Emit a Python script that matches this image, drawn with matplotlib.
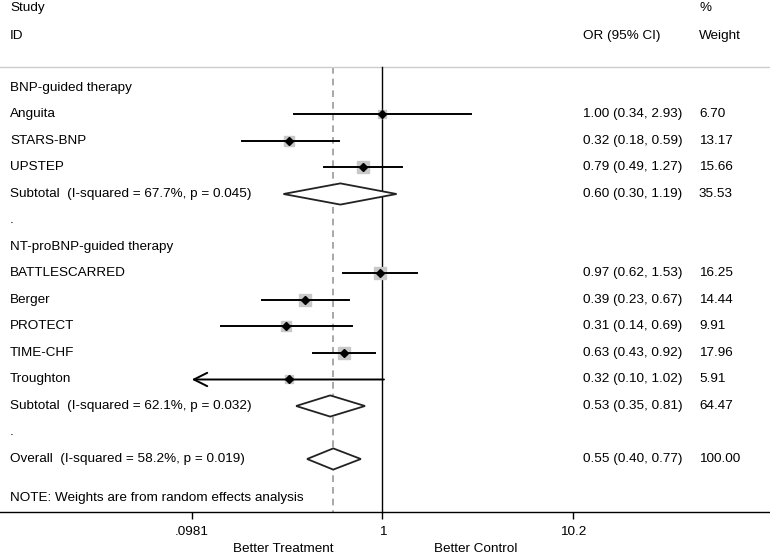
import matplotlib
matplotlib.use('agg')
import matplotlib.pyplot as plt
import numpy as np

plt.rcParams['font.family'] = ['Liberation Sans', 'DejaVu Sans']
plt.rcParams['font.size'] = 9.7

# study level data
groups = ["BNP-guided therapy", "NT-proBNP-guided therapy"]
studies = [
    ["Anguita", "STARS-BNP", "UPSTEP"],
    ["BATTLESCARRED", "Berger", "PROTECT", "TIME-CHF", "Troughton"],
]
est = [[1.00, 0.32, 0.79], [0.97, 0.39, 0.31, 0.63, 0.32]]
lo = [[0.34, 0.18, 0.49], [0.62, 0.23, 0.14, 0.43, 0.10]]
hi = [[2.93, 0.59, 1.27], [1.53, 0.67, 0.69, 0.92, 1.02]]
wt = [[6.70, 13.17, 15.66], [16.25, 14.44, 9.91, 17.96, 5.91]]

# subtotals
sub_est = [0.60, 0.53]
sub_lo = [0.30, 0.35]
sub_hi = [1.19, 0.81]
sub_wt = [35.53, 64.47]
sub_i2 = [67.7, 62.1]
sub_p = [0.045, 0.032]

# overall
ov_est, ov_lo, ov_hi, ov_wt = 0.55, 0.40, 0.77, 100.00
ov_i2, ov_p = 58.2, 0.019

tick_vals = [0.0981, 1, 10.2]
tick_labels = [".0981", "1", "10.2"]

W, H = 770, 558
fig = plt.figure(figsize=(W / 100, H / 100), dpi=100)
ax = fig.add_axes([0, 46 / H, 1, 512 / H])
ax.set_xscale('log')
px_dec = 189.0
ax.set_xlim(10 ** (-382.3 / px_dec), 10 ** ((W - 382.3) / px_dec))
ax.set_ylim(16.0, -3.32)

for s in ['top', 'left', 'right']:
    ax.spines[s].set_visible(False)
ax.spines['bottom'].set_linewidth(1.0)
ax.set_yticks([])
ax.set_xticks(tick_vals)
ax.set_xticklabels(tick_labels)
ax.minorticks_off()
ax.tick_params(axis='x', direction='out', length=5, width=1, pad=5)

tr = ax.get_yaxis_transform()
X_LAB = 10 / W
X_OR = 583 / W
X_WT = 699 / W


def row_text(y, label, orstr="", wstr=""):
    ax.text(X_LAB, y, label, transform=tr, va='center', ha='left')
    if orstr:
        ax.text(X_OR, y, orstr, transform=tr, va='center', ha='left')
    if wstr:
        ax.text(X_WT, y, wstr, transform=tr, va='center', ha='left')


def fmt(e, l, h):
    return "%.2f (%.2f, %.2f)" % (e, l, h)


def diamond(y, e, l, h):
    ax.fill([l, e, h, e, l], [y, y - 0.4, y, y + 0.4, y], facecolor='white',
            edgecolor='#222222', lw=1.3, zorder=4)


# header
ax.text(X_LAB, -3.02, "Study", transform=tr, va='center')
ax.text(X_LAB, -1.96, "ID", transform=tr, va='center')
ax.text(X_OR, -1.96, "OR (95% CI)", transform=tr, va='center')
ax.text(X_WT, -3.02, "%", transform=tr, va='center')
ax.text(X_WT, -1.96, "Weight", transform=tr, va='center')
ax.axhline(-0.79, color='#cccccc', lw=1.0)

top_line = -0.79
ax.plot([1, 1], [top_line, 16.0], color='black', lw=1.0, zorder=2)
ax.plot([ov_est, ov_est], [top_line, 16.0], color='#999999', lw=1.2,
        dashes=(4, 3), zorder=1)

ax_lo = tick_vals[0]
r = 0
for g in range(len(groups)):
    row_text(r, groups[g])
    r += 1
    for i in range(len(studies[g])):
        e, l, h, w = est[g][i], lo[g][i], hi[g][i], wt[g][i]
        row_text(r, studies[g][i], fmt(e, l, h), "%.2f" % w)
        ax.plot(e, r, marker='s', markersize=2.14 * np.sqrt(w),
                color='#c8c8c8', zorder=3, lw=0)
        if round(l, 2) <= round(ax_lo, 2):
            ax.annotate("", xy=(ax_lo, r), xytext=(h, r),
                        arrowprops=dict(arrowstyle='->', lw=1.4,
                                        mutation_scale=24, color='black',
                                        shrinkA=0, shrinkB=0), zorder=4)
        else:
            ax.plot([l, h], [r, r], color='black', lw=1.4, zorder=4)
        ax.plot(e, r, marker='D', markersize=3.8, color='black', zorder=5)
        r += 1
    row_text(r, "Subtotal  (I-squared = %.1f%%, p = %.3f)" % (sub_i2[g], sub_p[g]),
             fmt(sub_est[g], sub_lo[g], sub_hi[g]), "%.2f" % sub_wt[g])
    diamond(r, sub_est[g], sub_lo[g], sub_hi[g])
    r += 1
    row_text(r, ".")
    r += 1

row_text(r, "Overall  (I-squared = %.1f%%, p = %.3f)" % (ov_i2, ov_p),
         fmt(ov_est, ov_lo, ov_hi), "%.2f" % ov_wt)
diamond(r, ov_est, ov_lo, ov_hi)
ax.text(X_LAB, r + 1.47, "NOTE: Weights are from random effects analysis",
        transform=tr, va='center')

fig.text(283 / W, (H - 549) / H, "Better Treatment", ha='center', va='center')
fig.text(476 / W, (H - 549) / H, "Better Control", ha='center', va='center')

fig.savefig("out.png", dpi=100)
